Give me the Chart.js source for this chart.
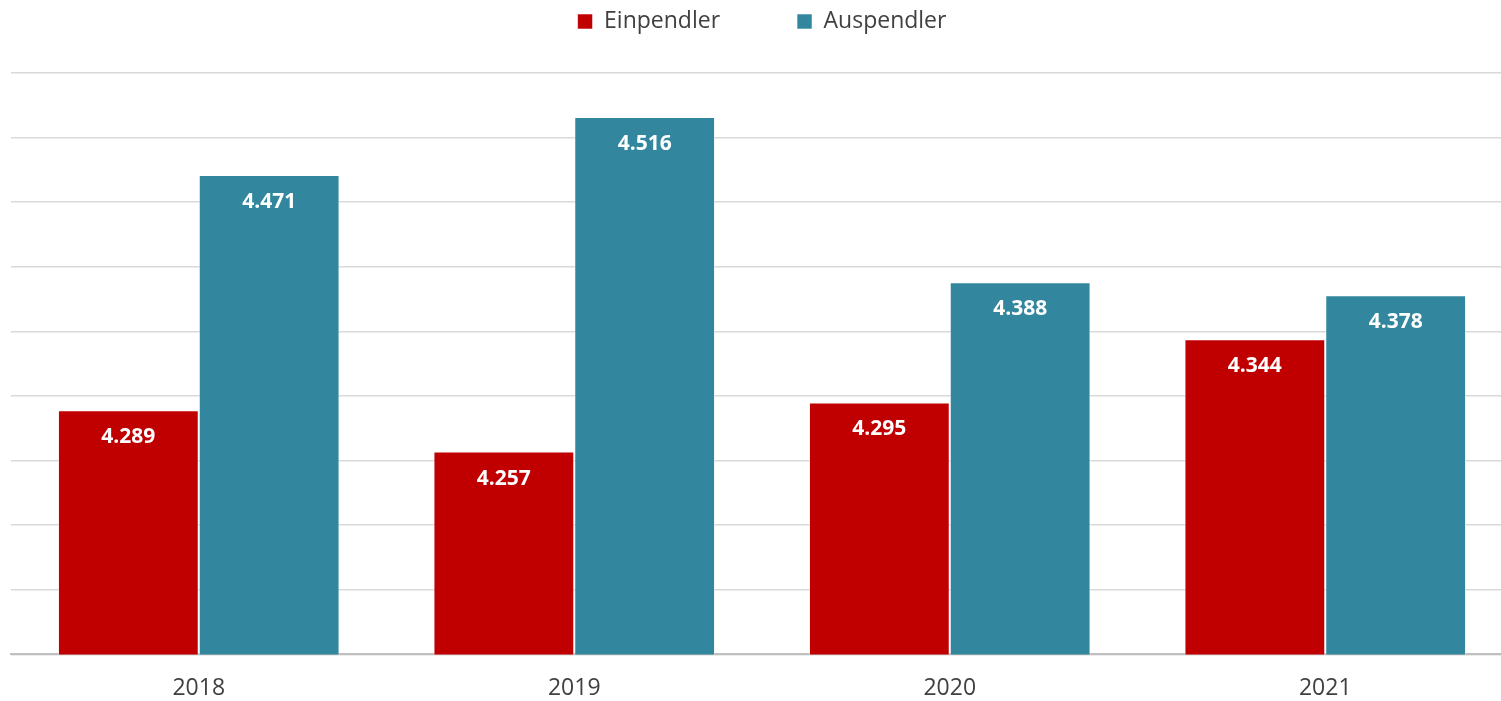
<!DOCTYPE html>
<html lang="de">
<head>
<meta charset="utf-8">
<title>Ein- und Auspendler</title>
<script src="https://cdn.jsdelivr.net/npm/chart.js@4/dist/chart.umd.min.js"></script>
<style>
    html, body { margin: 0; padding: 0; background: #ffffff; overflow: hidden; }
</style>
</head>
<body>
<canvas id="chartPendler" width="1513" height="701"></canvas>
<script>
var jahre = ['2018', '2019', '2020', '2021'];
var einpendler = [4289, 4257, 4295, 4344];
var auspendler = [4471, 4516, 4388, 4378];
var achseMin = 4100;
var achseMax = 4550;
var achseSchritt = 50;

var corRot = '#c00000';
var corBlau = '#32879e';
var corText = '#404040';
var schrift = '"Open Sans", "Noto Sans", sans-serif';

// 4289 -> "4.289"
const formatieren = (wert) => {
    let tausend = Math.floor(wert / 1000);
    let rest = String(wert % 1000).padStart(3, '0');
    return tausend + '.' + rest;
}

// Werte weiß in die Balken schreiben
const werteBeschriften = {
    id: 'werteBeschriften',
    afterDatasetsDraw(chart) {
        const ctx = chart.ctx;
        ctx.save();
        ctx.font = 'bold 21px ' + schrift;
        ctx.fillStyle = '#ffffff';
        ctx.textAlign = 'center';
        ctx.textBaseline = 'middle';
        chart.data.datasets.forEach((ds, i) => {
            chart.getDatasetMeta(i).data.forEach((balken, j) => {
                ctx.fillText(formatieren(ds.data[j]), balken.x, balken.y + 27);
            });
        });
        ctx.restore();
    }
};

// Abstand zwischen Legende und Diagramm vergrößern
const legendeAbstand = {
    id: 'legendeAbstand',
    afterInit(chart) {
        const fit = chart.legend.fit;
        chart.legend.fit = function () {
            fit.call(this);
            this.height += 30;
        };
    }
};

let ctx = document.getElementById('chartPendler').getContext('2d');
let chart = new Chart(ctx, {
    type: 'bar',
    data: {
        labels: jahre,
        datasets: [{
            label: 'Einpendler',
            backgroundColor: corRot,
            borderColor: 'rgba(255,255,255,0.55)',
            borderWidth: 1,
            data: einpendler
        }, {
            label: 'Auspendler',
            backgroundColor: corBlau,
            borderColor: 'rgba(255,255,255,0.55)',
            borderWidth: 1,
            data: auspendler
        }]
    },
    options: {
        responsive: false,
        animation: false,
        layout: {
            padding: { top: -67, left: 11, right: 0, bottom: -21 }
        },
        datasets: {
            bar: {
                categoryPercentage: 0.75,
                barPercentage: 1
            }
        },
        plugins: {
            legend: {
                position: 'top',
                labels: {
                    boxWidth: 15,
                    boxHeight: 15,
                    padding: 77,
                    color: corText,
                    font: { family: schrift, size: 23 }
                }
            },
            tooltip: { enabled: false }
        },
        scales: {
            x: {
                grid: { display: false, drawTicks: false },
                border: { display: true, color: '#bfbfbf', width: 2 },
                ticks: {
                    color: corText,
                    padding: 20,
                    font: { family: schrift, size: 23 }
                }
            },
            y: {
                min: achseMin,
                max: achseMax,
                grid: { color: '#d9d9d9', lineWidth: 1.5, drawTicks: false },
                border: { display: false },
                ticks: { display: false, stepSize: achseSchritt }
            }
        }
    },
    plugins: [werteBeschriften, legendeAbstand]
});
</script>
</body>
</html>
